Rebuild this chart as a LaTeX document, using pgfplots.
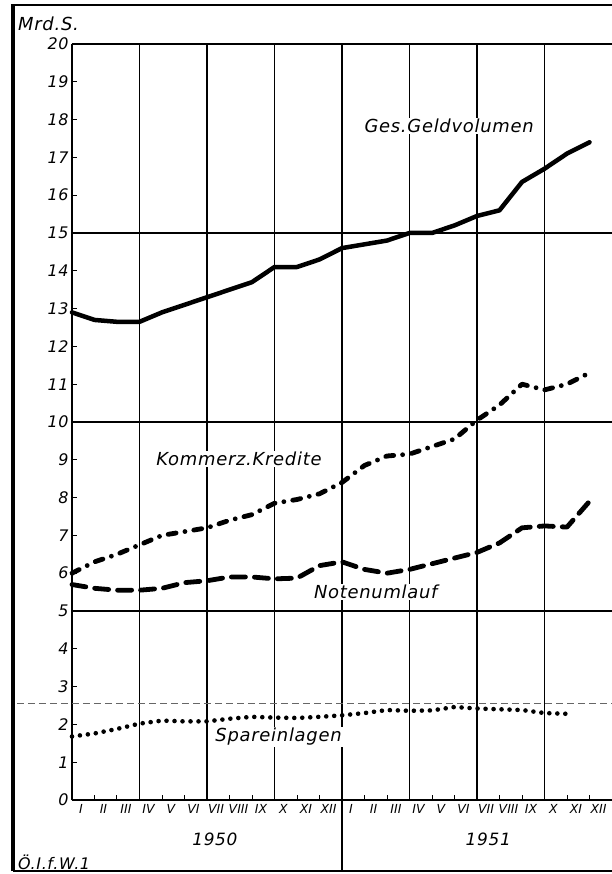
\documentclass[border=0pt]{standalone}
\usepackage{fontspec}
\setmainfont{DejaVu Sans}
\newfontfamily\hand{DejaVu Sans}[LetterSpace=4]
\newfontfamily\handn{DejaVu Sans}
\usepackage{pgfplots}
\pgfplotsset{compat=1.18}
\begin{document}
\begin{tikzpicture}[x=1bp,y=1bp]
\begin{axis}[
    at={(0,0)}, anchor=south west,
    scale only axis, width=540bp, height=756bp,
    xmin=0, xmax=24, ymin=0, ymax=20,
    clip=false,
    axis x line*=bottom, axis y line*=left,
    axis line style={draw=none},
    tick align=inside,
    major tick length=5bp,
    xtick style={black, line width=1bp},
    ytick style={black, line width=1bp},
    ytick={0,...,20},
    xtick={0,...,23},
    xticklabels={I,II,III,IV,V,VI,VII,VIII,IX,X,XI,XII,I,II,III,IV,V,VI,VII,VIII,IX,X,XI,XII},
    /pgf/number format/assume math mode=true,
    yticklabel style={font=\hand\fontsize{16}{16}\selectfont\itshape},
    xticklabel style={font=\handn\fontsize{12.5}{12.5}\selectfont\itshape, xshift=9bp, yshift=-1bp},
  ]
  % grid
  \draw[line width=1.6bp] (axis cs:0,5) -- (axis cs:24,5);
  \draw[line width=1.6bp] (axis cs:0,10) -- (axis cs:24,10);
  \draw[line width=1.6bp] (axis cs:0,15) -- (axis cs:24,15);
  \draw[line width=2bp] (axis cs:0,20) -- (axis cs:24,20);
  \draw[line width=1.2bp] (axis cs:3,0) -- (axis cs:3,20);
  \draw[line width=1.2bp] (axis cs:6,0) -- (axis cs:6,20);
  \draw[line width=1.2bp] (axis cs:9,0) -- (axis cs:9,20);
  \draw[line width=1.2bp] (axis cs:15,0) -- (axis cs:15,20);
  \draw[line width=1.2bp] (axis cs:18,0) -- (axis cs:18,20);
  \draw[line width=1.2bp] (axis cs:21,0) -- (axis cs:21,20);
  \draw[line width=1.4bp] (axis cs:12,20) -- (axis cs:12,0) -- ++(0,-71bp);
  \draw[line width=2bp] (axis cs:0,0) -- (axis cs:0,20);
  \draw[line width=1.8bp] (axis cs:0,0) -- (axis cs:24,0);
  \draw[line width=0.7bp, black!60, dash pattern=on 7bp off 4bp] ([xshift=-55bp]axis cs:0,2.55) -- (axis cs:24,2.55);
  % labels
  \begin{scope}[every node/.style={fill=white, inner sep=1bp, font=\hand\fontsize{18}{18}\selectfont\itshape}]
    \node at (axis cs:16.76,17.83) {Ges.Geldvolumen};
    \node at (axis cs:7.42,9.02) {Kommerz.Kredite};
    \node at (axis cs:13.5,5.5) {Notenumlauf};
    \node at (axis cs:9.18,1.67) {Spareinlagen};
  \end{scope}
  \node[font=\hand\fontsize{17}{17}\selectfont\itshape] at (axis cs:6.35,-1.03) {1950};
  \node[font=\hand\fontsize{17}{17}\selectfont\itshape] at (axis cs:18.5,-1.03) {1951};
  % Ges. Geldvolumen
  \addplot[black, line width=4.5bp, line join=round, line cap=round] coordinates {
    (0,12.9)(1,12.7)(2,12.65)(3,12.65)(4,12.9)(5,13.1)(6,13.3)(7,13.5)
    (8,13.7)(9,14.1)(10,14.1)(11,14.3)(12,14.6)(13,14.7)(14,14.8)(15,15.0)
    (16,15.0)(17,15.2)(18,15.45)(19,15.6)(20,16.35)(21,16.7)(22,17.1)(23,17.4)};
  % Kommerz. Kredite
  \addplot[black, line width=4.8bp, line cap=round, line join=round,
    dash pattern=on 8bp off 9bp on 0bp off 9bp] coordinates {
    (0,6.0)(1,6.3)(2,6.5)(3,6.75)(4,7.0)(5,7.1)(6,7.2)(7,7.4)
    (8,7.55)(9,7.85)(10,7.95)(11,8.1)(12,8.4)(13,8.85)(14,9.1)(15,9.15)
    (16,9.35)(17,9.55)(18,10.05)(19,10.45)(20,11.0)(21,10.85)(22,11.0)(23,11.3)};
  % Notenumlauf
  \addplot[black, line width=4.8bp, line cap=round, line join=round,
    dash pattern=on 14bp off 9bp] coordinates {
    (0,5.7)(1,5.6)(2,5.55)(3,5.55)(4,5.6)(5,5.75)(6,5.8)(7,5.9)
    (8,5.9)(9,5.85)(10,5.87)(11,6.2)(12,6.3)(13,6.1)(14,6.0)(15,6.1)
    (16,6.25)(17,6.4)(18,6.55)(19,6.8)(20,7.2)(21,7.25)(22,7.22)(23,7.9)};
  % Spareinlagen
  \addplot[black, line width=4.6bp, line cap=round, dash pattern=on 0bp off 8bp] coordinates {
    (0,1.68)(1,1.76)(2,1.88)(3,2.02)(4,2.1)(5,2.08)(6,2.08)(7,2.15)
    (8,2.2)(9,2.18)(10,2.17)(11,2.2)(12,2.24)(13,2.3)(14,2.38)(15,2.36)
    (16,2.37)(17,2.46)(18,2.42)(19,2.4)(20,2.38)(21,2.3)(22,2.28)};
\end{axis}
% outer frame and side texts
\draw[line width=4bp] (-59,-71) -- (-59,796);
\draw[line width=2bp] (-61,795) -- (540,795);
\draw[line width=1.2bp] (-59,-71) -- (540,-71);
\node[anchor=west, inner sep=0pt, font=\hand\fontsize{18}{18}\selectfont\itshape] at (-54,776) {Mrd.S.};
\node[anchor=west, inner sep=0pt, font=\hand\fontsize{16}{16}\selectfont\itshape] at (-54,-62) {Ö.I.f.W.1};
\pgfresetboundingbox
\useasboundingbox (-72,-74) rectangle (540,800);
\end{tikzpicture}
\end{document}
